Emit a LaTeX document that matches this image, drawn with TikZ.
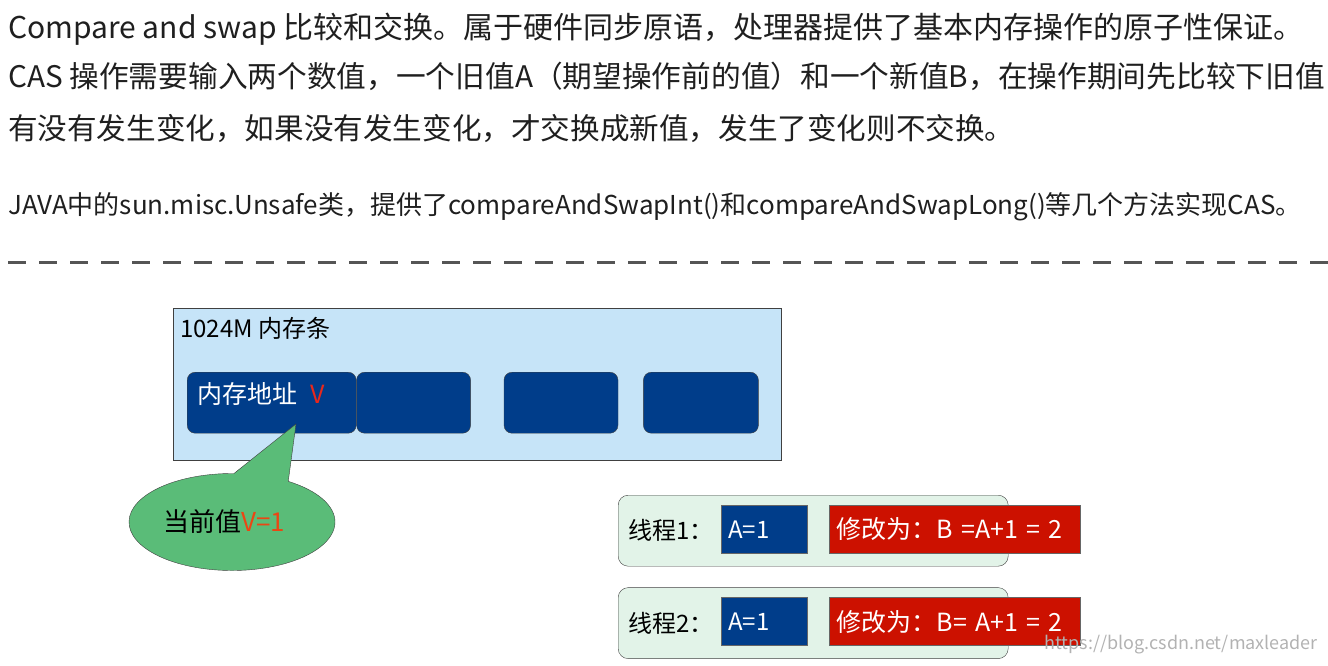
\documentclass[tikz,border=0pt]{standalone}
\usepackage{fontspec}
\setmainfont{Noto Sans CJK SC}
\usetikzlibrary{positioning, shapes.callouts}
\definecolor{BarBlue}{RGB}{198, 228, 248}
\definecolor{CellBlue}{RGB}{0, 61, 138}
\definecolor{BubbleGreen}{RGB}{90, 188, 120}
\definecolor{ThreadGreen}{RGB}{226, 243, 232}
\definecolor{OpRed}{RGB}{204, 17, 0}
\definecolor{MarkRed}{RGB}{232, 40, 28}
\definecolor{ValOrange}{RGB}{235, 70, 20}
\definecolor{DashGray}{RGB}{85, 85, 85}

\begin{document}
\begin{tikzpicture}[x=1pt, y=-1pt,
  para/.style={anchor=base west, inner sep=0pt, text=black!88,
    font=\fontsize{30}{36}\selectfont},
  membar/.style={rectangle, draw=black!75, fill=BarBlue,
    minimum width=608pt, minimum height=152pt, inner sep=0pt, anchor=north west},
  cell/.style={rectangle, rounded corners=8pt, draw=black!75, fill=CellBlue,
    minimum height=61pt, inner sep=0pt, anchor=north west},
  bubble/.style={ellipse callout, draw=black!75, fill=BubbleGreen,
    minimum width=206pt, minimum height=97pt, inner sep=0pt,
    callout pointer arc=32, font=\fontsize{26}{30}\selectfont},
  thread/.style={rectangle, rounded corners=10pt, draw=black!75, fill=ThreadGreen,
    minimum width=390pt, minimum height=71pt, anchor=north west},
  tlabel/.style={anchor=west, inner sep=0pt, font=\fontsize{24}{28}\selectfont},
  valbox/.style={rectangle, draw=black!60, fill=CellBlue, text=white,
    text width=72pt, inner xsep=7pt, minimum height=48pt, align=left,
    anchor=north west, font=\fontsize{24}{28}\selectfont},
  opbox/.style={rectangle, draw=black!60, fill=OpRed, text=white,
    text width=237pt, inner xsep=7pt, minimum height=48pt, align=left,
    anchor=north west, font=\fontsize{25}{28}\selectfont},
  dashline/.style={draw=DashGray, line width=3pt, dash pattern=on 18pt off 13pt}
]
  \useasboundingbox (0,0) rectangle (1328,665);

  % text above the line
  \node[para] (l1) at (8,38)  {Compare and swap 比较和交换。属于硬件同步原语，处理器提供了基本内存操作的原子性保证。};
  \node[para, font=\fontsize{29.7}{36}\selectfont] (l2) at (8,87)
    {CAS 操作需要输入两个数值，一个旧值A（期望操作前的值）和一个新值B，在操作期间先比较下旧值};
  \node[para, font=\fontsize{29.6}{36}\selectfont] (l3) at (8,139)
    {有没有发生变化，如果没有发生变化，才交换成新值，发生了变化则不交换。};
  \node[para, font=\fontsize{26}{30}\selectfont] (l4) at (8,214)
    {JAVA中的sun.misc.Unsafe类，提供了compareAndSwapInt()和compareAndSwapLong()等几个方法实现CAS。};

  \coordinate (sepL) at (8,262);
  \coordinate (sepR) at (1328,262);
  \draw[dashline] (sepL) -- (sepR);

  % memory bar
  \node[membar] (bar) at (173,308) {};
  \node[anchor=west, inner sep=0pt, font=\fontsize{24}{28}\selectfont] (barlabel) at (180,328) {1024M 内存条};
  \node[cell, minimum width=169pt] (cell1) at (187,372) {};
  \node[cell, minimum width=114pt, right=0pt of cell1] (cell2) {};
  \node[cell, minimum width=114pt, right=33pt of cell2] (cell3) {};
  \node[cell, minimum width=115pt, right=25pt of cell3] (cell4) {};
  \node[anchor=west, inner sep=0pt, text=white, font=\fontsize{25}{28}\selectfont] (addr) at (197,394)
    {内存地址\hspace{13pt}\textcolor{MarkRed}{V}};

  \coordinate (vptr) at (296,424);
  \node[bubble, callout absolute pointer={(vptr)}] (cur) at (232,522)
    {当前值\textcolor{ValOrange}{V=1}\kern16pt\null};

  % threads
  \node[thread] (thr1) at (618,495) {};
  \node[thread, below=21pt of thr1] (thr2) {};
  \node[tlabel, right=10pt of thr1.west] (lab1) {线程1：};
  \node[tlabel, right=10pt of thr2.west] (lab2) {线程2：};
  \node[valbox] (val1) at (721,505) {A=1};
  \node[opbox, right=22pt of val1] (op1) {修改为：B =A+1 = 2};
  \node[valbox, below=44pt of val1] (val2) {A=1};
  \node[opbox, below=44pt of op1] (op2) {修改为：B= A+1 = 2};

  \node[anchor=east, inner sep=0pt, text=black!30, font=\fontsize{18}{20}\selectfont] (mark) at (1318,645)
    {https://blog.csdn.net/maxleader};
\end{tikzpicture}
\end{document}
